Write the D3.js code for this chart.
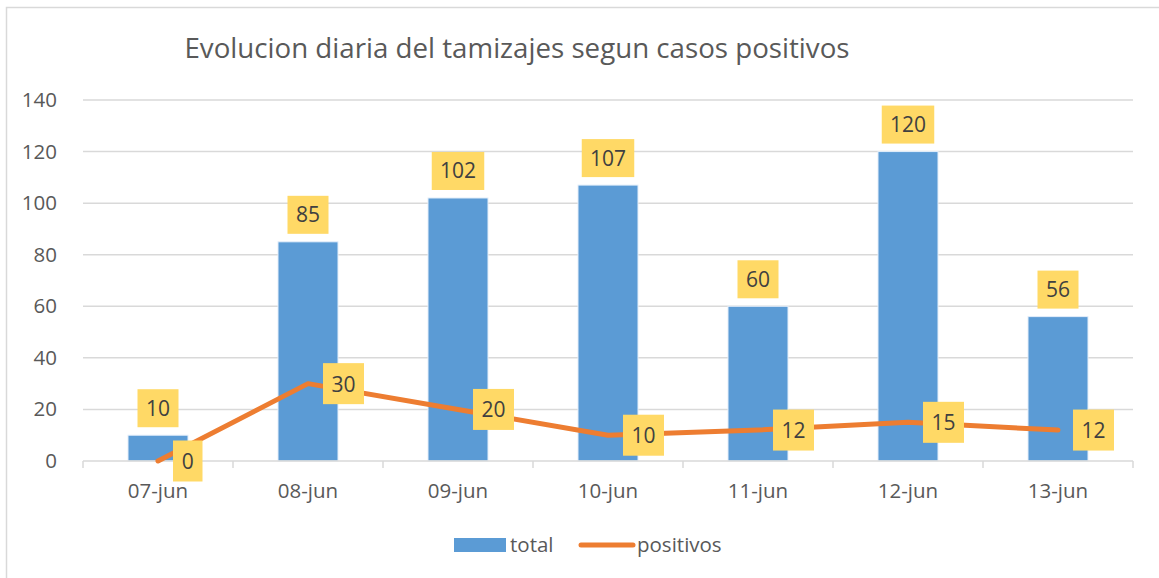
<!DOCTYPE html>
<html>
  <head>
    <title>Evolucion diaria</title>
    <script src="https://cdn.jsdelivr.net/npm/d3@7"></script>
    <style>
      body { margin: 0; background: #fff; }
      text { font-family: "Open Sans", "Noto Sans", sans-serif; }
    </style>
  </head>
  <body>
    <svg width="1159" height="578" id="mainsvg"></svg>
    <script>
      const days = ['07-jun', '08-jun', '09-jun', '10-jun', '11-jun', '12-jun', '13-jun'];
      const total = [10, 85, 102, 107, 60, 120, 56];
      const positivos = [0, 30, 20, 10, 12, 15, 12];
      const yTicks = [0, 20, 40, 60, 80, 100, 120, 140];

      const svg = d3.select('#mainsvg');
      const plotLeft = 83, plotRight = 1133, plotTop = 100, plotBottom = 461;
      const gridColor = '#d9d9d9';
      const textColor = '#595959';

      // chart frame
      svg.append('rect')
        .attr('x', 6.5).attr('y', 7.5)
        .attr('width', 1200).attr('height', 620)
        .attr('fill', 'white').attr('stroke', gridColor).attr('stroke-width', 1.5);

      svg.append('text')
        .attr('x', 517).attr('y', 58)
        .attr('text-anchor', 'middle')
        .attr('font-size', 27.7).attr('fill', textColor)
        .text('Evolucion diaria del tamizajes segun casos positivos');

      const xScale = d3.scaleBand().domain(days).range([plotLeft, plotRight])
        .paddingInner(0.6).paddingOuter(0.3);
      const yScale = d3.scaleLinear().domain([0, 140]).range([plotBottom, plotTop]);
      const cx = d => xScale(d) + xScale.bandwidth() / 2;

      // gridlines
      svg.append('g').selectAll('line').data(yTicks.slice(1)).join('line')
        .attr('x1', plotLeft).attr('x2', plotRight)
        .attr('y1', d => yScale(d)).attr('y2', d => yScale(d))
        .attr('stroke', gridColor).attr('stroke-width', 1.5);

      // y axis labels
      const yAxis = svg.append('g').attr('transform', `translate(${plotLeft - 23},0)`)
        .call(d3.axisLeft(yScale).tickValues(yTicks).tickSize(0));
      yAxis.select('.domain').remove();
      yAxis.selectAll('text').attr('font-size', 20.5).attr('fill', textColor)
        .attr('font-family', '"Open Sans", sans-serif');

      // bars
      svg.append('g').selectAll('rect').data(days).join('rect')
        .attr('x', d => xScale(d))
        .attr('y', (d, i) => yScale(total[i]))
        .attr('width', xScale.bandwidth())
        .attr('height', (d, i) => plotBottom - yScale(total[i]))
        .attr('fill', '#5b9bd5')
        .attr('stroke', '#e3eefa').attr('stroke-width', 1);

      // x axis
      const step = xScale.step();
      const bounds = d3.range(days.length + 1).map(i => plotLeft + i * step);
      svg.append('line')
        .attr('x1', plotLeft).attr('x2', plotRight).attr('y1', plotBottom).attr('y2', plotBottom)
        .attr('stroke', gridColor).attr('stroke-width', 1.5);
      svg.append('g').selectAll('line').data(bounds).join('line')
        .attr('x1', d => d).attr('x2', d => d)
        .attr('y1', plotBottom).attr('y2', plotBottom + 7)
        .attr('stroke', gridColor).attr('stroke-width', 1.5);
      svg.append('g').selectAll('text').data(days).join('text')
        .attr('x', cx).attr('y', 498)
        .attr('text-anchor', 'middle')
        .attr('font-size', 20.5).attr('fill', textColor)
        .text(d => d);

      // line
      const line = d3.line()
        .x((d, i) => cx(days[i]))
        .y(d => yScale(d));
      svg.append('path').datum(positivos)
        .attr('d', line)
        .attr('fill', 'none').attr('stroke', '#ed7d31')
        .attr('stroke-width', 5)
        .attr('stroke-linecap', 'round').attr('stroke-linejoin', 'round');

      // data labels
      const labelFill = '#ffd966';
      const labelText = '#404040';
      const boxW = v => String(v).length * 11.5 + 18;

      const barLabels = svg.append('g').selectAll('g').data(days).join('g');
      barLabels.append('rect')
        .attr('x', (d, i) => cx(d) - boxW(total[i]) / 2)
        .attr('y', (d, i) => yScale(total[i]) - 8 - 38)
        .attr('width', (d, i) => boxW(total[i]))
        .attr('height', 38)
        .attr('fill', labelFill);
      barLabels.append('text')
        .attr('x', d => cx(d))
        .attr('y', (d, i) => yScale(total[i]) - 8 - 19 + 7.5)
        .attr('text-anchor', 'middle')
        .attr('font-size', 21).attr('fill', labelText)
        .text((d, i) => total[i]);

      const lineLabels = svg.append('g').selectAll('g').data(days).join('g');
      lineLabels.append('rect')
        .attr('x', d => cx(d) + 15)
        .attr('y', (d, i) => yScale(positivos[i]) - 20.5)
        .attr('width', (d, i) => boxW(positivos[i]))
        .attr('height', 41)
        .attr('fill', labelFill);
      lineLabels.append('text')
        .attr('x', (d, i) => cx(d) + 15 + boxW(positivos[i]) / 2)
        .attr('y', (d, i) => yScale(positivos[i]) + 8)
        .attr('text-anchor', 'middle')
        .attr('font-size', 21).attr('fill', labelText)
        .text((d, i) => positivos[i]);

      // legend
      const legend = svg.append('g');
      legend.append('rect')
        .attr('x', 454).attr('y', 538).attr('width', 52).attr('height', 14)
        .attr('fill', '#5b9bd5');
      legend.append('text')
        .attr('x', 510).attr('y', 552)
        .attr('font-size', 20.5).attr('fill', textColor).text('total');
      legend.append('line')
        .attr('x1', 581).attr('x2', 633).attr('y1', 545).attr('y2', 545)
        .attr('stroke', '#ed7d31').attr('stroke-width', 5)
        .attr('stroke-linecap', 'round');
      legend.append('text')
        .attr('x', 637).attr('y', 552)
        .attr('font-size', 20.5).attr('fill', textColor).text('positivos');
    </script>
  </body>
</html>
